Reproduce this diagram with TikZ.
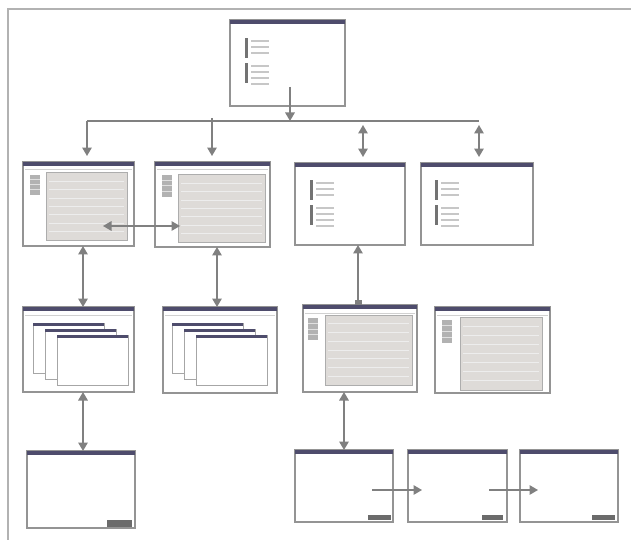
\documentclass[tikz,border=0pt]{standalone}
\usepackage{tikz}
\usetikzlibrary{calc,arrows.meta}
\definecolor{titlebar}{RGB}{78,76,108}
\definecolor{panelgray}{RGB}{222,219,216}
\tikzset{
	win/.style={draw=black!42, line width=0.3mm, fill=white, inner sep=0pt, outer sep=0pt, rectangle},
	conn/.style={color=black!50, line width=0.3mm},
	arr/.style={conn, -{Triangle[width=1.9mm,length=1.7mm]}},
	darr/.style={conn, {Triangle[width=1.9mm,length=1.7mm]}-{Triangle[width=1.9mm,length=1.7mm]}},
}
\def\drawwin#1(#2,#3)(#4,#5){%
	\node[win, anchor=north west, minimum width={(#4-#2)*0.02cm}, minimum height={(#5-#3)*0.02cm}] (#1) at (#2,#3) {};
	\fill[titlebar] (#1.north west) rectangle ($(#1.north east)+(0,4)$);}
\def\menuline#1{\draw[line width=0.2mm, color=black!18] ($(#1.north west)+(2,8)$) -- ($(#1.north east)+(-2,8)$);}
\def\listmarks(#1,#2){%
	\fill[black!55] (#1,#2) rectangle ++(3,20);
	\fill[black!55] (#1,#2+25) rectangle ++(3,20);
	\foreach \d in {3,9,15,28,34,40,46} \draw[line width=0.3mm, color=black!22] (#1+6,#2+\d) -- ++(18,0);}
\def\panelwin(#1,#2)(#3,#4)(#5,#6)(#7,#8){%
	\fill[black!30] (#1,#2) rectangle (#3,#4);
	\foreach \k in {1,2,3} \draw[line width=0.2mm, color=black!12] (#1,{#2+\k*(#4-#2)/4}) -- (#3,{#2+\k*(#4-#2)/4});
	\draw[fill=panelgray, draw=black!32, line width=0.2mm] (#5,#6) rectangle (#7,#8);
	\foreach \k in {1,...,7} \draw[line width=0.2mm, color=black!7] (#5+3,{#6+\k*(#8-#6)/8}) -- (#7-3,{#6+\k*(#8-#6)/8});}
\def\stackwins(#1,#2){%
	\foreach \i in {0,1,2} {
		\draw[fill=white, draw=black!35, line width=0.2mm] (#1+\i*12,#2+\i*6) rectangle ++(71,50);
		\fill[titlebar] (#1+\i*12,#2+\i*6) rectangle ++(71,3);
	}}
\def\button(#1,#2)(#3,#4){\fill[black!58] (#1,#2) rectangle (#3,#4);}

\begin{document}
\begin{tikzpicture}[x=0.02cm, y=-0.02cm]
		%%%%% START %%%%%
		\useasboundingbox (0,0) rectangle (631,540);
		
		\draw[line width=0.3mm, color=black!30] (631,9) -- (8,9) -- (8,540);
		
		% top menu
		\drawwin{top}(230,20)(345,106)
		\listmarks(245,38)
		
		% second row
		\drawwin{w1}(23,162)(134,246)
		\menuline{w1}
		\panelwin(30,175)(40,195)(46,173)(127,240)
		\drawwin{w2}(155,162)(270,247)
		\menuline{w2}
		\panelwin(162,175)(172,197)(178,175)(265,242)
		\drawwin{w3}(295,163)(405,245)
		\listmarks(310,180)
		\drawwin{w4}(421,163)(533,245)
		\listmarks(435,180)
		
		% third row
		\drawwin{w5}(23,307)(134,392)
		\menuline{w5}
		\stackwins(33,323)
		\drawwin{w6}(163,307)(277,393)
		\menuline{w6}
		\stackwins(172,323)
		\drawwin{w7}(303,305)(417,392)
		\menuline{w7}
		\panelwin(308,318)(318,340)(325,315)(412,385)
		\drawwin{w8}(435,307)(550,393)
		\menuline{w8}
		\panelwin(442,320)(452,343)(460,317)(542,390)
		
		% dialogs
		\drawwin{w9}(27,451)(135,528)
		\button(107,520)(132,527)
		\drawwin{w10}(295,450)(393,522)
		\button(368,515)(391,520)
		\drawwin{w11}(408,450)(507,522)
		\button(482,515)(503,520)
		\drawwin{w12}(520,450)(618,522)
		\button(592,515)(615,520)
		
		% branch from the top menu
		\coordinate (topout) at ($(top.north west)+(60,67)$);
		\coordinate (split) at (290,121);
		\coordinate (b1) at (87,121);
		\coordinate (b2) at (212,118);
		\coordinate (b3) at (363,125);
		\coordinate (b4) at (479,125);
		\coordinate (bend) at (479,121);
		\draw[conn] (b1) -- (bend);
		\draw[arr] (topout) -- (split);
		\draw[arr, shorten >=1.2mm] (b1) -- (b1 |- w1.north);
		\draw[arr, shorten >=1.2mm] (b2) -- (b2 |- w2.north);
		\draw[darr, shorten >=1.2mm] (b3) -- (b3 |- w3.north);
		\draw[darr, shorten >=1.2mm] (b4) -- (b4 |- w4.north);
		
		% links between screens
		\draw[darr] ($(w1.north west)+(80,64)$) -- ($(w2.north west)+(25,64)$);
		\draw[darr] ($(w1.south west)+(60,0)$) coordinate (c15) -- (c15 |- w5.north);
		\draw[darr] ($(w2.south west)+(62,0)$) coordinate (c26) -- (c26 |- w6.north);
		\draw[conn, {Square[length=1mm,width=1.4mm]}-{Triangle[width=1.9mm,length=1.7mm]}] ($(w7.north west)+(55,0)$) coordinate (c73) -- (c73 |- w3.south);
		\draw[darr] ($(w5.south west)+(60,0)$) coordinate (c59) -- (c59 |- w9.north);
		\draw[darr] ($(w7.south west)+(41,0)$) coordinate (c710) -- (c710 |- w10.north);
		\draw[arr] ($(w10.north west)+(77,40)$) -- ($(w11.north west)+(14,40)$);
		\draw[arr] ($(w11.north west)+(81,40)$) -- ($(w12.north west)+(18,40)$);
		
		%%%%% END %%%%%
	\end{tikzpicture}
\end{document}
